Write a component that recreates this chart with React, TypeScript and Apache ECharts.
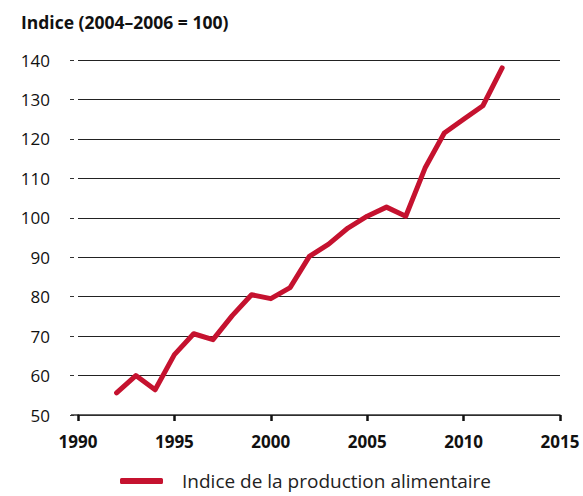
import React, { useEffect, useRef } from "react";
import * as echarts from "echarts";

const years = [1992, 1993, 1994, 1995, 1996, 1997, 1998, 1999, 2000, 2001, 2002, 2003, 2004, 2005, 2006, 2007, 2008, 2009, 2010, 2011, 2012];
const indexValues = [55.6, 60.0, 56.4, 65.3, 70.6, 69.1, 75.2, 80.5, 79.5, 82.3, 90.2, 93.3, 97.4, 100.4, 102.7, 100.4, 112.6, 121.5, 125.0, 128.4, 138.0];
const seriesName = "Indice de la production alimentaire";
const yTitle = "Indice (2004–2006 = 100)";

const FONT = "'Open Sans', 'Noto Sans', sans-serif";

export default function App() {
  const ref = useRef<HTMLDivElement>(null);
  useEffect(() => {
    if (!ref.current) return;
    const chart = echarts.init(ref.current, undefined, { renderer: "svg" });
    chart.setOption({
      animation: false,
      backgroundColor: "#ffffff",
      textStyle: { fontFamily: FONT },
      title: {
        text: yTitle,
        left: 21,
        top: 13,
        padding: 0,
        textStyle: { fontFamily: FONT, fontSize: 17.5, fontWeight: "bold", color: "#111" },
      },
      legend: {
        top: 471,
        left: 120,
        padding: 0,
        itemWidth: 43,
        itemHeight: 6,
        icon: "roundRect",
        textStyle: { fontFamily: FONT, fontSize: 19, lineHeight: 20, color: "#222", padding: [0, 0, 0, 14] },
        data: [seriesName],
      },
      grid: { left: 78, right: 23, top: 60, bottom: 81, containLabel: false },
      xAxis: {
        type: "value",
        min: 1990,
        max: 2015,
        interval: 5,
        axisLine: { show: true, lineStyle: { color: "#333", width: 1.5 } },
        axisTick: { show: true, inside: false, length: 6, lineStyle: { color: "#111", width: 2.5 } },
        axisLabel: {
          fontFamily: FONT,
          fontSize: 17,
          fontWeight: "bold",
          color: "#111",
          margin: 18,
          formatter: (v: number) => String(v),
        },
        splitLine: { show: false },
      },
      yAxis: {
        type: "value",
        min: 50,
        max: 140,
        interval: 10,
        offset: 4,
        axisLine: { show: false },
        axisTick: { show: true, length: 4, lineStyle: { color: "#333", width: 1 } },
        axisLabel: { fontFamily: FONT, fontSize: 17, color: "#111", margin: 24 },
        splitLine: { show: true, lineStyle: { color: "#222", width: 1 } },
      },
      graphic: [
        { type: "line", shape: { x1: 71, y1: 415, x2: 79, y2: 415 }, style: { stroke: "#333", lineWidth: 1.5 } },
      ],
      series: [
        {
          name: seriesName,
          type: "line",
          data: years.map((y, i) => [y, indexValues[i]]),
          showSymbol: false,
          symbol: "none",
          lineStyle: { color: "#c5122f", width: 5, cap: "round", join: "round" },
          itemStyle: { color: "#c5122f" },
        },
      ],
    });
    return () => chart.dispose();
  }, []);
  return <div ref={ref} style={{ position: "fixed", left: 0, top: 0, width: 583, height: 496 }} />;
}
